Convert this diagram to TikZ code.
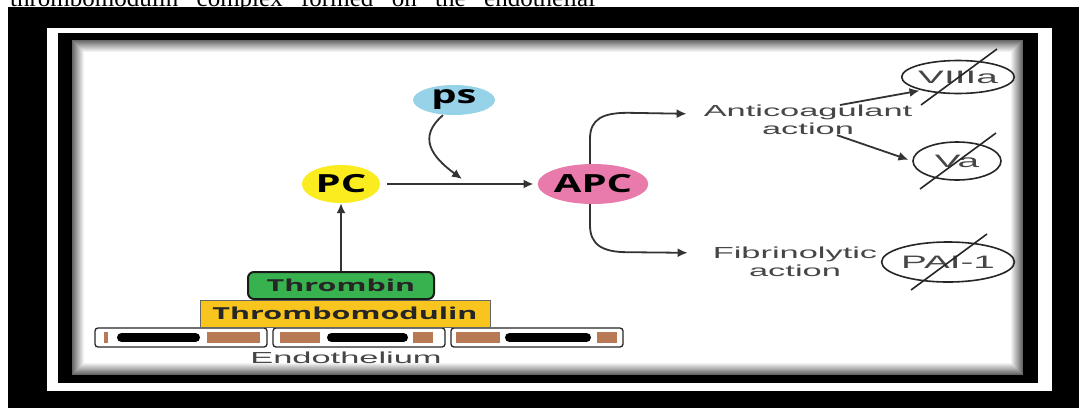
\documentclass[tikz,border=0pt]{standalone}
\usepackage{fontspec}
\setmainfont{Liberation Serif}
\newfontfamily\labelfont[FakeStretch=2.15]{Liberation Sans}
\newfontfamily\nodefont[FakeStretch=1.6]{Open Sans}
\newfontfamily\boxfont[FakeStretch=1.85]{Open Sans}
\usetikzlibrary{arrows.meta,shapes.geometric,calc}

\definecolor{psblue}{RGB}{150,210,232}
\definecolor{pcyellow}{RGB}{250,236,30}
\definecolor{apcpink}{RGB}{233,122,172}
\definecolor{thrgreen}{RGB}{55,178,78}
\definecolor{tmgold}{RGB}{248,196,30}
\definecolor{cellbrown}{RGB}{184,122,84}
\definecolor{txtgray}{RGB}{70,70,70}

\tikzset{
  arr/.style={-{Latex[length=10pt,width=9pt]}, line width=1.8pt, draw=black!80},
  blob/.style={ellipse, inner sep=0pt, text=black,
    font=\nodefont\bfseries\fontsize{25}{25}\selectfont},
  boxlabel/.style={inner sep=0pt, text=black!85,
    font=\boxfont\bfseries\fontsize{16.5}{16.5}\selectfont},
  lbl/.style={inner sep=0pt, align=center, text=txtgray,
    font=\labelfont\fontsize{16}{18}\selectfont},
  crossed/.style={ellipse, draw=black!85, line width=1.6pt, inner sep=0pt,
    text=txtgray, font=\labelfont\fontsize{18}{18}\selectfont},
  slash/.style={line width=1.6pt, draw=black!85},
  cell/.style={draw=black!85, line width=1.3pt, rounded corners=3pt, fill=white,
    minimum width=172pt, minimum height=19pt, inner sep=0pt},
  nucleus/.style={line width=9pt, line cap=round, draw=black},
}

\begin{document}
\begin{tikzpicture}[x=1pt, y=-1pt]
  \useasboundingbox (0,0) rectangle (1079,408);
  \clip (0,0) rectangle (1079,408);

  % caption line, cut off at the top
  \node[anchor=base west, inner sep=0pt, font=\fontsize{25}{25}\selectfont] (caption) at (10,6)
    {\makebox[585pt][s]{thrombomodulin complex formed on the endothelial}};

  % frame
  \fill[black] (8,7) rectangle (1079,408);
  \fill[white] (47,28) rectangle (1052,391);
  \fill[black] (58,33) rectangle (1038,383);
  \fill[white] (72,40) rectangle (1023,375);
  \foreach \i [evaluate=\i as \op using 0.6-0.05*\i] in {0,...,11}
    \draw[black, opacity=\op, line width=1pt] (72.5+\i,40.5+\i) rectangle (1022.5-\i,374.5-\i);

  % endothelium
  \node[cell] (cell1) at (181,337.5) {};
  \node[cell] (cell2) at (359,337.5) {};
  \node[cell] (cell3) at (537,337.5) {};
  \fill[cellbrown] (104,332) rectangle (108,343);
  \fill[cellbrown] (207,332) rectangle (260,343);
  \draw[nucleus] (121.5,337.5) -- (195.5,337.5);
  \fill[cellbrown] (280,332) rectangle (320,343);
  \fill[cellbrown] (413,332) rectangle (433,343);
  \draw[nucleus] (331.5,337.5) -- (403.5,337.5);
  \fill[cellbrown] (456,332) rectangle (500,343);
  \fill[cellbrown] (597,332) rectangle (617,343);
  \draw[nucleus] (509.5,337.5) -- (586.5,337.5);
  \node[lbl] (endo) at (346,358) {Endothelium};

  % complex on the wall
  \node[boxlabel, draw=black!60, line width=0.8pt, fill=tmgold,
    minimum width=290pt, minimum height=27pt] (tm) at (345,313.5) {Thrombomodulin};
  \node[boxlabel, draw=black!90, line width=2pt, rounded corners=6pt, fill=thrgreen,
    minimum width=186pt, minimum height=27pt] (thrombin) at (341,285.5) {Thrombin};

  % protein C activation
  \node[blob, fill=pcyellow, minimum width=78pt, minimum height=38pt] (pc) at (341,184) {PC};
  \node[blob, fill=apcpink, minimum width=110pt, minimum height=40pt] (apc) at (593,184) {APC};
  \node[blob, fill=psblue, minimum width=82pt, minimum height=30pt] (ps) at (454,100) {ps};
  \coordinate (join) at ($(pc.east)!0.52!(apc.west)$);

  \draw[arr] (thrombin.north) -- (pc.south);
  \draw[arr, shorten <=7pt, shorten >=4pt] (pc.east) -- (apc.west);
  \draw[arr] ([xshift=-11pt]ps.south) .. controls +(-26,22) and +(-30,-22) .. ([yshift=5pt]join);

  % effects of APC
  \node[lbl, anchor=north] (antico) at (808,105) {Anticoagulant\\action};
  \node[lbl, anchor=north] (fibrino) at (795,247) {Fibrinolytic\\action};
  \draw[arr, shorten >=17pt] ([xshift=-3pt]apc.north) -- ++(0,-25)
    .. controls +(0,-20) and +(-25,0) .. ++(38,-26) -- ([yshift=6pt]antico.west);
  \draw[arr, shorten >=25pt] ([xshift=-3pt]apc.south) -- ++(0,21)
    .. controls +(0,20) and +(-25,0) .. ++(38,27) -- ([yshift=9pt]fibrino.west);

  % inhibited factors
  \node[crossed, minimum width=83pt, minimum height=33pt] (viiia) at (958,77) {VIIIa};
  \node[crossed, minimum width=88pt, minimum height=38pt] (va) at (957,161) {Va};
  \node[crossed, minimum width=110pt, minimum height=40pt] (pai) at (948,262) {PAI-1};
  \foreach \n in {viiia,va,pai}
    \draw[slash] ($(\n)+(39,-28)$) -- ($(\n)+(-37,28)$);

  \draw[arr, shorten >=2pt] ([xshift=32pt]antico.north) -- (viiia.200);
  \draw[arr, shorten >=4pt] ([xshift=29pt]antico.south) -- (va.west);
\end{tikzpicture}
\end{document}
